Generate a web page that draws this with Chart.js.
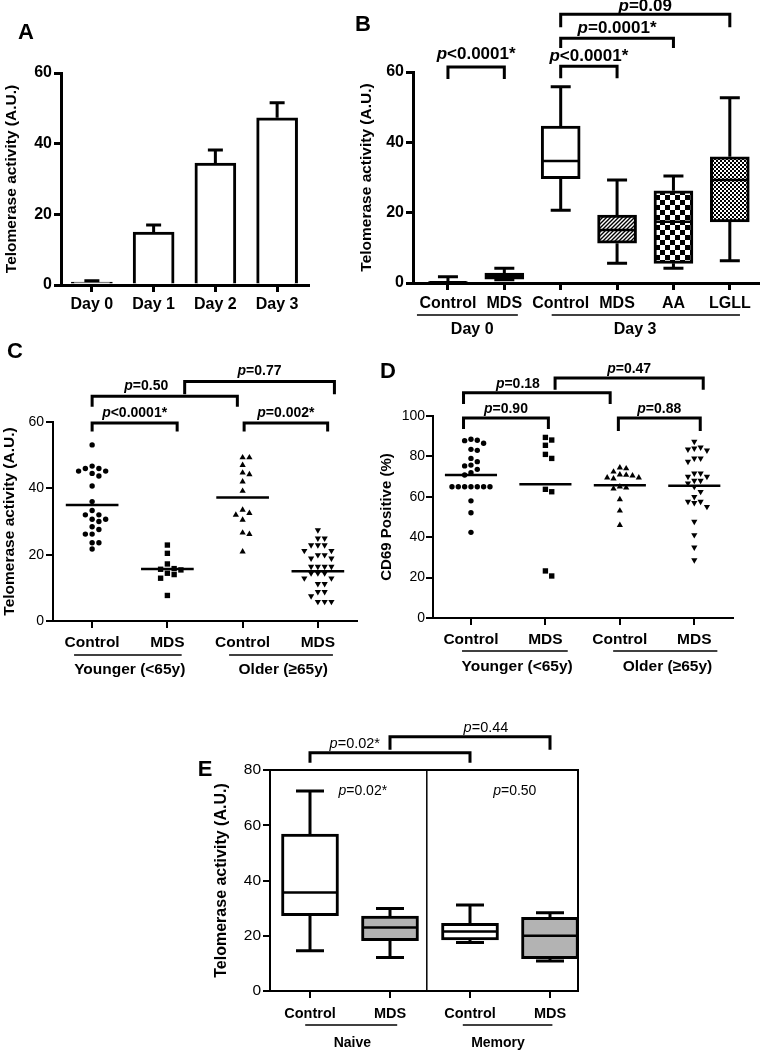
<!DOCTYPE html>
<html>
<head>
<meta charset="utf-8">
<title>Telomerase activity panels</title>
<script src="https://cdn.jsdelivr.net/npm/chart.js@4.4.1/dist/chart.umd.min.js"></script>
<style>
  body { margin: 0; background: #fff; }
  #page { position: relative; width: 760px; height: 1050px; overflow: hidden; background: #fff; }
  canvas { position: absolute; }
</style>
</head>
<body>
<div id="page">
  <canvas id="chartA"></canvas>
  <canvas id="chartB"></canvas>
  <canvas id="chartC"></canvas>
  <canvas id="chartD"></canvas>
  <canvas id="chartE"></canvas>
</div>
<script>
// ---- panel A: mean + SEM by day ----
const aLabels = ['Day 0', 'Day 1', 'Day 2', 'Day 3'];
const aMeans = [0.8, 15, 34.5, 47.3];
const aErrors = [0.4, 2, 3.7, 4.3];

// ---- panel B: box plots ----
const bLabels = ['Control', 'MDS', 'Control', 'MDS', 'AA', 'LGLL'];
const bMin = [0, 0.9, 20.7, 5.6, 4.2, 6.3];
const bQ1 = [0, 1.1, 29.7, 11.3, 5.6, 17.4];
const bMedian = [0.2, 2, 34.7, 15.1, 17.4, 29.3];
const bQ3 = [0.4, 2.8, 44.6, 19.3, 26.2, 35.9];
const bMax = [1.8, 4.2, 55.8, 29.3, 30.4, 52.7];

// ---- panels C and D: individual values ----
const cdLabels = ['Control', 'MDS', 'Control', 'MDS'];
const cYoungControl = [53.1, 46.7, 46, 46, 45.2, 45.2, 44.5, 43.7, 40.7, 36, 33.3, 32, 32, 30.7, 30.7, 30, 28.4, 27.6, 26.2, 26.2, 23.6, 23.6, 21.7];
const cYoungMds = [22.9, 20.4, 17.2, 15.8, 15.6, 15.4, 14.4, 14, 12.9, 7.7];
const cOldControl = [49.3, 49.3, 47, 44.7, 44.2, 42, 39.2, 33.5, 32.5, 32, 30.5, 26.6, 26.2, 20.9];
const cOldMds = [27.4, 24.9, 24.9, 22.9, 22.9, 22.9, 21.2, 21.2, 19.9, 19.9, 18.9, 18.9, 16.4, 16.4, 16.4, 16.4, 14.4, 14.4, 14.4, 12.9, 12.9, 11.2, 11.2, 8.8, 8.8, 7.5, 5.8, 5.8, 5.8];
const cCentres = [35, 15.7, 37.2, 15];

const dYoungControl = [88.5, 88, 87.8, 86.5, 83.5, 83, 79, 77.4, 75.7, 75.3, 73.6, 71.9, 70.8, 65, 65, 65, 65, 65, 65, 65, 58, 52.1, 42.4];
const dYoungMds = [89.4, 88.1, 85.5, 81, 79, 63.7, 62.5, 23.3, 20.8];
const dOldControl = [74.4, 74, 72.4, 71, 70.8, 70.5, 69.5, 69.5, 69, 65, 64.5, 64, 58.7, 53.1, 46];
const dOldMds = [87.3, 84.5, 84, 83.5, 83, 79, 79, 77.4, 71.6, 71.6, 70, 70, 68, 68, 66.7, 65, 62.5, 60, 57.6, 57.6, 57, 55.1, 47.7, 41.1, 35, 28.7];
const dCentres = [70.8, 66.2, 65.7, 65.5];

// ---- panel E: naive / memory box plots ----
const eLabels = ['Control', 'MDS', 'Control', 'MDS'];
const eMin = [14.6, 12.1, 17.6, 10.9];
const eQ1 = [27.3, 18.2, 18.5, 11.7];
const eMedian = [35.7, 23, 21.5, 20];
const eQ3 = [56.8, 27.1, 24.5, 26.7];
const eMax = [72.4, 29.9, 31.1, 28.3];

const SANS = "'Liberation Sans', Arial, sans-serif";

Chart.defaults.font.family = SANS;
Chart.defaults.color = '#000';
Chart.defaults.animation = false;
Chart.defaults.plugins.legend.display = false;
Chart.defaults.plugins.tooltip.enabled = false;

function place(id, left, top, width, height) {
    const c = document.getElementById(id);
    c.width = width;
    c.height = height;
    c.style.left = left + 'px';
    c.style.top = top + 'px';
    return c;
}

// "p" in italics, the rest upright, centred on x
function pText(ctx, text, x, y, font) {
    const head = text.charAt(0);
    const tail = text.slice(1);
    const italic = 'italic ' + font.weight + ' ' + font.size + 'px ' + font.family;
    const upright = font.weight + ' ' + font.size + 'px ' + font.family;
    ctx.font = italic;
    const w1 = ctx.measureText(head).width;
    ctx.font = upright;
    const w2 = ctx.measureText(tail).width;
    const start = x - (w1 + w2) / 2;
    ctx.textAlign = 'left';
    ctx.textBaseline = 'middle';
    ctx.font = italic;
    ctx.fillText(head, start, y);
    ctx.font = upright;
    ctx.fillText(tail, start + w1, y);
}

// spread overlapping dots sideways, like a dot plot
function spread(values, centre, step, near) {
    const placed = [];
    return values.map(v => {
        let k = 0;
        for (let n = 0; n < 30; n++) {
            k = Math.ceil(n / 2) * (n % 2 ? 1 : -1);
            if (!placed.some(p => p.k === k && Math.abs(p.v - v) < near)) break;
        }
        placed.push({ k: k, v: v });
        return { x: centre + k * step, y: v };
    });
}

function dots(data, style, radius, rotation) {
    return {
        type: 'scatter',
        data: data,
        pointStyle: style,
        pointRadius: radius,
        pointRotation: rotation,
        backgroundColor: '#000',
        borderColor: '#000',
        borderWidth: 0
    };
}

function centreLines(centres, half) {
    const pts = [];
    centres.forEach((m, i) => {
        pts.push({ x: i - half, y: m }, { x: i + half, y: m }, { x: i + half, y: null });
    });
    return {
        type: 'line',
        data: pts,
        borderColor: '#000',
        borderWidth: 2.5,
        pointRadius: 0,
        spanGaps: false
    };
}

function valueAxis(o) {
    return {
        min: o.min,
        max: o.max,
        ticks: { stepSize: o.step, font: o.tickFont, padding: o.tickPad },
        grid: { display: true, drawOnChartArea: false, drawTicks: true, tickLength: 7,
                tickWidth: o.lw, lineWidth: o.lw, tickColor: '#000', color: '#000' },
        border: { display: true, color: '#000', width: o.lw },
        title: { display: true, text: o.title, font: o.titleFont, padding: { top: o.titlePad, bottom: 0 } },
        afterFit: s => { s.width = o.width; }
    };
}

function categoryAxis(labels, o) {
    return {
        type: 'linear',
        min: o.min,
        max: o.max,
        offset: false,
        afterBuildTicks: s => { s.ticks = labels.map((l, i) => ({ value: i })); },
        ticks: { callback: v => labels[v], font: o.tickFont, padding: o.tickPad, autoSkip: false, maxRotation: 0 },
        grid: { display: true, offset: false, drawOnChartArea: false, drawTicks: true, tickLength: 7,
                tickWidth: o.lw, lineWidth: o.lw, tickColor: '#000', color: '#000' },
        border: { display: true, color: '#000', width: o.lw },
        afterFit: s => { s.height = o.height; }
    };
}

// brackets, group underlines, panel letters, frames
const decoPlugin = {
    id: 'deco',
    afterDraw(chart, args, opts) {
        const ctx = chart.ctx;
        const xs = chart.scales.x;
        const ys = chart.scales.y;
        const area = chart.chartArea;
        ctx.save();
        ctx.strokeStyle = '#000';
        ctx.fillStyle = '#000';
        ctx.lineCap = 'butt';
        ctx.lineJoin = 'miter';

        if (opts.frame) {
            ctx.lineWidth = opts.frame;
            ctx.beginPath();
            ctx.moveTo(area.left, area.top);
            ctx.lineTo(area.right, area.top);
            ctx.lineTo(area.right, area.bottom);
            ctx.stroke();
        }
        if (opts.divider !== undefined) {
            const xd = xs.getPixelForValue(opts.divider);
            ctx.lineWidth = 1.5;
            ctx.beginPath();
            ctx.moveTo(xd, area.top);
            ctx.lineTo(xd, area.bottom);
            ctx.stroke();
        }

        (opts.brackets || []).forEach(b => {
            const x1 = xs.getPixelForValue(b.x1);
            const x2 = xs.getPixelForValue(b.x2);
            const yt = ys.getPixelForValue(b.y);
            const yd = ys.getPixelForValue(b.drop);
            ctx.lineWidth = opts.bracketWidth;
            ctx.beginPath();
            ctx.moveTo(x1, yd);
            ctx.lineTo(x1, yt);
            ctx.lineTo(x2, yt);
            ctx.lineTo(x2, yd);
            ctx.stroke();
            const lx = xs.getPixelForValue(b.labelX !== undefined ? b.labelX : (b.x1 + b.x2) / 2);
            const gap = b.gap !== undefined ? b.gap : opts.labelGap;
            pText(ctx, b.label, lx, yt - gap, opts.pFont);
        });

        (opts.notes || []).forEach(n => {
            pText(ctx, n.label, xs.getPixelForValue(n.x), ys.getPixelForValue(n.y), opts.noteFont);
        });

        (opts.groups || []).forEach(g => {
            const x1 = xs.getPixelForValue(g.from);
            const x2 = xs.getPixelForValue(g.to);
            const yl = area.bottom + opts.groupLineGap;
            ctx.lineWidth = opts.groupLineWidth;
            ctx.beginPath();
            ctx.moveTo(x1, yl);
            ctx.lineTo(x2, yl);
            ctx.stroke();
            ctx.font = opts.groupFont;
            ctx.textAlign = 'center';
            ctx.textBaseline = 'middle';
            ctx.fillText(g.label, xs.getPixelForValue(g.at), area.bottom + opts.groupLabelGap);
        });

        if (opts.letter) {
            ctx.font = 'bold 22px ' + SANS;
            ctx.textAlign = 'center';
            ctx.textBaseline = 'middle';
            ctx.fillText(opts.letter, opts.letterX, opts.letterY);
        }
        ctx.restore();
    }
};

// whiskers and medians on top of floating-bar boxes
const whiskerPlugin = {
    id: 'whiskers',
    afterDatasetsDraw(chart, args, opts) {
        if (!opts.min) return;
        const meta = chart.getDatasetMeta(0);
        const ys = chart.scales.y;
        const ctx = chart.ctx;
        ctx.save();
        ctx.strokeStyle = '#000';
        opts.min.forEach((lo, i) => {
            const bar = meta.data[i];
            const x = bar.x;
            const half = bar.width / 2;
            const pLo = ys.getPixelForValue(lo);
            const pHi = ys.getPixelForValue(opts.max[i]);
            const pQ1 = ys.getPixelForValue(opts.q1[i]);
            const pQ3 = ys.getPixelForValue(opts.q3[i]);
            const pMed = ys.getPixelForValue(opts.median[i]);
            ctx.lineWidth = opts.lineWidth;
            ctx.beginPath();
            ctx.moveTo(x, pQ1); ctx.lineTo(x, pLo);
            ctx.moveTo(x - opts.cap / 2, pLo); ctx.lineTo(x + opts.cap / 2, pLo);
            ctx.moveTo(x, pQ3); ctx.lineTo(x, pHi);
            ctx.moveTo(x - opts.cap / 2, pHi); ctx.lineTo(x + opts.cap / 2, pHi);
            ctx.stroke();
            ctx.lineWidth = opts.medianWidth;
            ctx.beginPath();
            ctx.moveTo(x - half + 1, pMed);
            ctx.lineTo(x + half - 1, pMed);
            ctx.stroke();
        });
        ctx.restore();
    }
};

// error caps for panel A
const errorBarPlugin = {
    id: 'errorBars',
    afterDatasetsDraw(chart, args, opts) {
        if (!opts.errors) return;
        const meta = chart.getDatasetMeta(0);
        const values = chart.data.datasets[0].data;
        const ys = chart.scales.y;
        const ctx = chart.ctx;
        ctx.save();
        ctx.strokeStyle = '#000';
        ctx.lineWidth = 3;
        opts.errors.forEach((e, i) => {
            const bar = meta.data[i];
            const top = ys.getPixelForValue(values[i] + e);
            ctx.beginPath();
            ctx.moveTo(bar.x, bar.y);
            ctx.lineTo(bar.x, top);
            ctx.moveTo(bar.x - opts.cap / 2, top);
            ctx.lineTo(bar.x + opts.cap / 2, top);
            ctx.stroke();
        });
        ctx.restore();
    }
};

function makePattern(ctx, size, draw) {
    const c = document.createElement('canvas');
    c.width = size;
    c.height = size;
    const g = c.getContext('2d');
    g.fillStyle = '#fff';
    g.fillRect(0, 0, size, size);
    g.fillStyle = '#000';
    g.strokeStyle = '#000';
    draw(g, size);
    return ctx.createPattern(c, 'repeat');
}

function hatch(ctx) {
    return makePattern(ctx, 4, (g, s) => {
        g.lineWidth = 1.4;
        g.beginPath();
        g.moveTo(-1, s + 1); g.lineTo(s + 1, -1);
        g.moveTo(-1, 1); g.lineTo(1, -1);
        g.moveTo(s - 1, s + 1); g.lineTo(s + 1, s - 1);
        g.stroke();
    });
}

function checker(ctx, cell) {
    return makePattern(ctx, cell * 2, g => {
        g.fillRect(0, 0, cell, cell);
        g.fillRect(cell, cell, cell, cell);
    });
}

// ================= A =================
place('chartA', 0, 0, 320, 320);
new Chart('chartA', {
    type: 'bar',
    data: {
        labels: aLabels,
        datasets: [{
            data: aMeans,
            backgroundColor: '#fff',
            borderColor: '#000',
            borderWidth: 3,
            borderSkipped: 'bottom',
            barThickness: 41
        }]
    },
    options: {
        responsive: false,
        layout: { padding: { left: 0, top: 73, right: 12, bottom: 0 } },
        scales: {
            x: {
                offset: true,
                ticks: { font: { size: 16, weight: 'bold' }, padding: 3, maxRotation: 0 },
                grid: { display: true, offset: false, drawOnChartArea: false, drawTicks: true, tickLength: 7,
                        tickWidth: 3, lineWidth: 3, tickColor: '#000', color: '#000' },
                border: { display: true, color: '#000', width: 3 },
                afterFit: s => { s.height = 35; }
            },
            y: valueAxis({ min: 0, max: 60, step: 20, lw: 3, width: 61, tickPad: 2,
                           tickFont: { size: 16, weight: 'bold' },
                           title: 'Telomerase activity (A.U.)', titleFont: { size: 15.5, weight: 'bold' }, titlePad: 2.5 })
        },
        plugins: {
            errorBars: { errors: aErrors, cap: 15 },
            deco: { letter: 'A', letterX: 26, letterY: 33 }
        }
    },
    plugins: [errorBarPlugin, decoPlugin]
});

// ================= B =================
place('chartB', 320, 0, 440, 345);
const ctxB = document.getElementById('chartB').getContext('2d');
const bFills = ['#fff', hatch(ctxB), '#fff', hatch(ctxB), checker(ctxB, 5), checker(ctxB, 2)];
new Chart('chartB', {
    type: 'bar',
    data: {
        datasets: [{
            data: bLabels.map((l, i) => ({ x: i, y: [bQ1[i], bQ3[i]] })),
            backgroundColor: bFills,
            borderColor: '#000',
            borderWidth: 3,
            borderSkipped: false,
            barThickness: 39
        }]
    },
    options: {
        responsive: false,
        layout: { padding: { left: 0, top: 72, right: 2, bottom: 0 } },
        scales: {
            x: categoryAxis(bLabels, { min: -0.62, max: 5.5, lw: 3, height: 62, tickPad: 4,
                                       tickFont: { size: 16, weight: 'bold' } }),
            y: valueAxis({ min: 0, max: 60, step: 20, lw: 3, width: 93, tickPad: 2,
                           tickFont: { size: 16, weight: 'bold' },
                           title: 'Telomerase activity (A.U.)', titleFont: { size: 15.5, weight: 'bold' }, titlePad: 37.5 })
        },
        plugins: {
            whiskers: { min: bMin, q1: bQ1, median: bMedian, q3: bQ3, max: bMax, cap: 20, lineWidth: 3, medianWidth: 2.5 },
            deco: {
                letter: 'B', letterX: 43, letterY: 25,
                bracketWidth: 3, labelGap: 13,
                pFont: { size: 17, weight: 'bold', family: SANS },
                brackets: [
                    { x1: 0, x2: 1, y: 61.4, drop: 58, label: 'p<0.0001*' },
                    { x1: 2, x2: 3, y: 61.6, drop: 58.2, label: 'p<0.0001*', gap: 10 },
                    { x1: 2, x2: 4, y: 69.6, drop: 66.8, label: 'p=0.0001*', gap: 10 },
                    { x1: 2, x2: 5, y: 76.4, drop: 72.7, label: 'p=0.09', gap: 8 }
                ],
                groupLineGap: 32, groupLabelGap: 47, groupLineWidth: 1.5,
                groupFont: 'bold 16px ' + SANS,
                groups: [
                    { from: -0.55, to: 1.24, at: 0.43, label: 'Day 0' },
                    { from: 1.84, to: 5.18, at: 3.32, label: 'Day 3' }
                ]
            }
        }
    },
    plugins: [whiskerPlugin, decoPlugin]
});

// ================= C =================
place('chartC', 0, 340, 375, 350);
new Chart('chartC', {
    type: 'scatter',
    data: {
        datasets: [
            dots(spread(cYoungControl, 0, 0.09, 1.8), 'circle', 2.7, 0),
            dots(spread(cYoungMds, 1, 0.09, 1.8), 'rect', 3.8, 0),
            dots(spread(cOldControl, 2, 0.09, 1.8), 'triangle', 3.6, 0),
            dots(spread(cOldMds, 3, 0.09, 1.8), 'triangle', 3.6, 180),
            centreLines(cCentres, 0.35)
        ]
    },
    options: {
        responsive: false,
        layout: { padding: { left: 0, top: 82, right: 18, bottom: 0 } },
        scales: {
            x: categoryAxis(cdLabels, { min: -0.52, max: 3.52, lw: 2, height: 69, tickPad: 5,
                                        tickFont: { size: 15.5, weight: 'bold' } }),
            y: valueAxis({ min: 0, max: 60, step: 20, lw: 2, width: 53, tickPad: 2,
                           tickFont: { size: 14, weight: 'normal' },
                           title: 'Telomerase activity (A.U.)', titleFont: { size: 15.5, weight: 'bold' }, titlePad: 0 })
        },
        plugins: {
            deco: {
                letter: 'C', letterX: 15, letterY: 12,
                bracketWidth: 3, labelGap: 10,
                pFont: { size: 14, weight: 'bold', family: SANS },
                brackets: [
                    { x1: 0, x2: 1.13, y: 59.7, drop: 57.1, label: 'p<0.0001*' },
                    { x1: 0, x2: 1.93, y: 67.8, drop: 64.6, label: 'p=0.50', labelX: 0.72 },
                    { x1: 1.23, x2: 3.22, y: 72.2, drop: 68.4, label: 'p=0.77' },
                    { x1: 2.02, x2: 3.13, y: 59.7, drop: 57.1, label: 'p=0.002*' }
                ],
                groupLineGap: 34, groupLabelGap: 49, groupLineWidth: 1.5,
                groupFont: 'bold 15.5px ' + SANS,
                groups: [
                    { from: -0.24, to: 1.19, at: 0.5, label: 'Younger (<65y)' },
                    { from: 1.82, to: 3.2, at: 2.54, label: 'Older (≥65y)' }
                ]
            }
        }
    },
    plugins: [decoPlugin]
});

// ================= D =================
place('chartD', 375, 345, 385, 345);
new Chart('chartD', {
    type: 'scatter',
    data: {
        datasets: [
            dots(spread(dYoungControl, 0, 0.085, 3), 'circle', 2.7, 0),
            dots(spread(dYoungMds, 1, 0.085, 3), 'rect', 3.8, 0),
            dots(spread(dOldControl, 2, 0.085, 3), 'triangle', 3.6, 0),
            dots(spread(dOldMds, 3, 0.085, 3), 'triangle', 3.6, 180),
            centreLines(dCentres, 0.35)
        ]
    },
    options: {
        responsive: false,
        layout: { padding: { left: 0, top: 71, right: 27, bottom: 0 } },
        scales: {
            x: categoryAxis(cdLabels, { min: -0.51, max: 3.52, lw: 2, height: 72, tickPad: 5,
                                        tickFont: { size: 15.5, weight: 'bold' } }),
            y: valueAxis({ min: 0, max: 100, step: 20, lw: 2, width: 58, tickPad: 1,
                           tickFont: { size: 14, weight: 'normal' },
                           title: 'CD69 Positive (%)', titleFont: { size: 15, weight: 'bold' }, titlePad: 2.5 })
        },
        plugins: {
            deco: {
                letter: 'D', letterX: 13, letterY: 27,
                bracketWidth: 3, labelGap: 9,
                pFont: { size: 14, weight: 'bold', family: SANS },
                brackets: [
                    { x1: -0.1, x2: 1.04, y: 99, drop: 93.6, label: 'p=0.90' },
                    { x1: 1.98, x2: 3.08, y: 99, drop: 92.6, label: 'p=0.88' },
                    { x1: -0.1, x2: 1.87, y: 111.5, drop: 106, label: 'p=0.18', labelX: 0.63 },
                    { x1: 1.13, x2: 3.12, y: 118.8, drop: 113, label: 'p=0.47' }
                ],
                groupLineGap: 33, groupLabelGap: 49, groupLineWidth: 1.5,
                groupFont: 'bold 15.5px ' + SANS,
                groups: [
                    { from: -0.12, to: 1.3, at: 0.62, label: 'Younger (<65y)' },
                    { from: 1.91, to: 3.31, at: 2.64, label: 'Older (≥65y)' }
                ]
            }
        }
    },
    plugins: [decoPlugin]
});

// ================= E =================
place('chartE', 180, 700, 420, 350);
new Chart('chartE', {
    type: 'bar',
    data: {
        datasets: [{
            data: eLabels.map((l, i) => ({ x: i, y: [eQ1[i], eQ3[i]] })),
            backgroundColor: ['#fff', '#b3b3b3', '#fff', '#b3b3b3'],
            borderColor: '#000',
            borderWidth: 3,
            borderSkipped: false,
            barThickness: 57
        }]
    },
    options: {
        responsive: false,
        layout: { padding: { left: 0, top: 70, right: 22, bottom: 0 } },
        scales: {
            x: categoryAxis(eLabels, { min: -0.5, max: 3.35, lw: 2, height: 59, tickPad: 7,
                                       tickFont: { size: 14.5, weight: 'bold' } }),
            y: valueAxis({ min: 0, max: 80, step: 20, lw: 2, width: 90, tickPad: 2,
                           tickFont: { size: 15.5, weight: 'normal' },
                           title: 'Telomerase activity (A.U.)', titleFont: { size: 16, weight: 'bold' }, titlePad: 32 })
        },
        plugins: {
            whiskers: { min: eMin, q1: eQ1, median: eMedian, q3: eQ3, max: eMax, cap: 28, lineWidth: 3, medianWidth: 2.5 },
            deco: {
                letter: 'E', letterX: 25, letterY: 70,
                frame: 2, divider: 1.46,
                bracketWidth: 3, labelGap: 9,
                pFont: { size: 14.5, weight: 'normal', family: SANS },
                brackets: [
                    { x1: 0, x2: 2, y: 86.2, drop: 82.6, label: 'p=0.02*', labelX: 0.56 },
                    { x1: 1, x2: 3, y: 92, drop: 87.3, label: 'p=0.44', labelX: 2.2 }
                ],
                noteFont: { size: 14, weight: 'normal', family: SANS },
                notes: [
                    { x: 0.66, y: 72.5, label: 'p=0.02*' },
                    { x: 2.56, y: 72.5, label: 'p=0.50' }
                ],
                groupLineGap: 34, groupLabelGap: 52, groupLineWidth: 1.5,
                groupFont: 'bold 14px ' + SANS,
                groups: [
                    { from: -0.06, to: 1.09, at: 0.53, label: 'Naive' },
                    { from: 1.91, to: 3.03, at: 2.35, label: 'Memory' }
                ]
            }
        }
    },
    plugins: [whiskerPlugin, decoPlugin]
});
</script>
</body>
</html>
